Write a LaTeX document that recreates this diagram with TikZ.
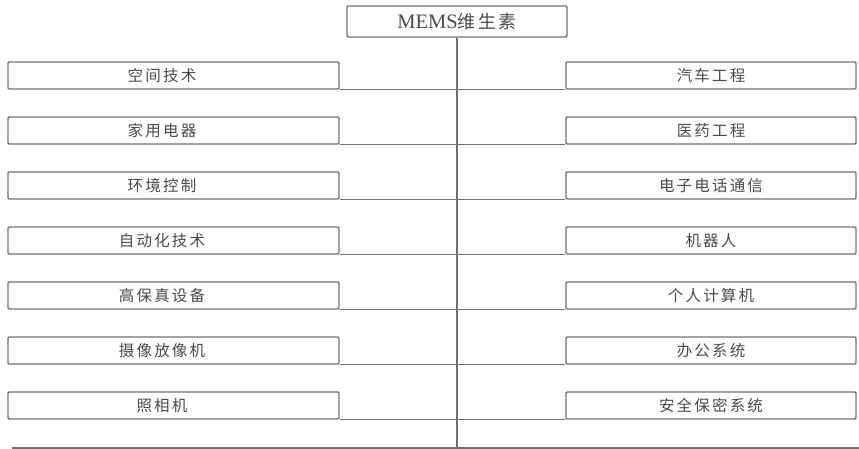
\documentclass[tikz,border=0pt]{standalone}
\usepackage{fontspec}
\setmainfont{Liberation Serif}
\newfontfamily\cjk[LetterSpace=14]{Noto Sans CJK SC}
\definecolor{linec}{HTML}{727272}
\definecolor{textc}{HTML}{4A4A4A}
\begin{document}
\begin{tikzpicture}[x=1pt,y=-1pt,
  wire/.style={draw=linec,line width=1.4pt},
  lbox/.style={wire,rectangle,rounded corners=1.2pt,minimum width=331pt,minimum height=27pt,inner sep=0pt,anchor=center},
  rbox/.style={wire,rectangle,rounded corners=1.2pt,minimum width=290pt,minimum height=27pt,inner sep=0pt,anchor=center},
  txt/.style={text=textc,font=\cjk\fontsize{15.5}{17}\selectfont,inner sep=0pt},
  topbox/.style={wire,rectangle,rounded corners=1.2pt,minimum width=220pt,minimum height=31pt,inner sep=0pt,text=textc}
]
\useasboundingbox (0,0) rectangle (859,449);
\node[topbox] (top) at (457,21.5) {{\fontsize{20.5}{22}\selectfont MEMS}{\cjk\fontsize{18}{20}\selectfont 维生素}};
\coordinate (bl) at (12,448);
\coordinate (br) at (859,448);
\coordinate (bm) at (457,448);
\draw[wire] (bl) -- (br);
\draw[wire] (top.south) -- (bm);
\foreach \i/\lt/\rt in {0/空间技术/汽车工程,1/家用电器/医药工程,2/环境控制/电子电话通信,3/自动化技术/机器人,4/高保真设备/个人计算机,5/摄像放像机/办公系统,6/照相机/安全保密系统}{
  \pgfmathsetmacro\yy{75.5+55*\i}
  \node[lbox] (L\i) at (173.5,\yy) {};
  \node[rbox] (R\i) at (711,\yy) {};
  \node[txt] (tL\i) at (162,\yy) {\lt};
  \node[txt] (tR\i) at (711,\yy) {\rt};
  \draw[wire] (L\i.south east) -- (R\i.south west);
}
\end{tikzpicture}
\end{document}
